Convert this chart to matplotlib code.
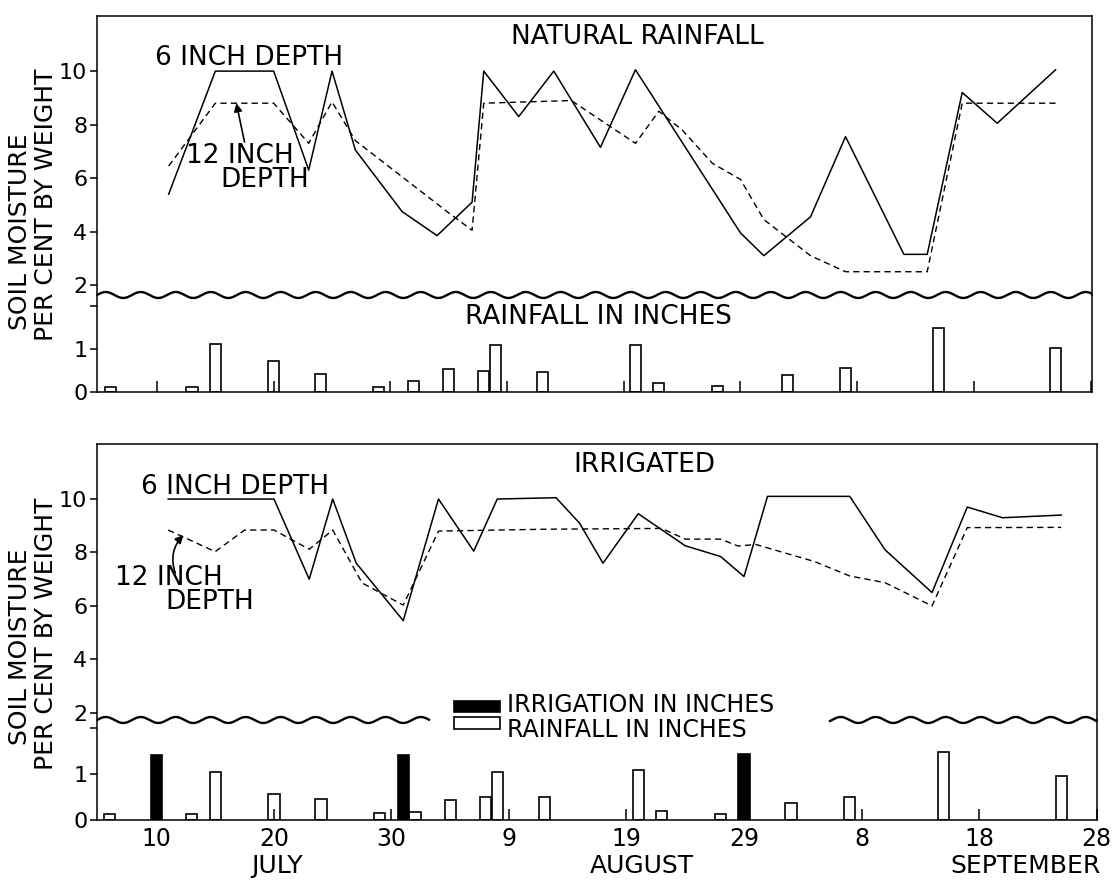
import numpy as np
import matplotlib
matplotlib.use("Agg")
import matplotlib.pyplot as plt
from matplotlib.patches import Rectangle

plt.rcParams['font.family'] = ['DejaVu Sans']

# Day index: 1 = July 1, 32 = Aug 1, 63 = Sep 1
tick_days = [10, 20, 30, 40, 50, 60, 70, 80, 90]
tick_labels = ['10', '20', '30', '9', '19', '29', '8', '18', '28']
months = ['JULY', 'AUGUST', 'SEPTEMBER']

# ---- Natural rainfall panel ----
nat_days_6 = [11, 15, 20, 23, 25, 27, 31, 34, 37, 38, 41, 44, 48, 51, 60, 62, 66, 69, 74, 76, 79, 82, 87]
nat_moist_6 = [5.4, 10.0, 10.0, 6.3, 10.0, 7.05, 4.75, 3.85, 5.1, 10.0, 8.3, 10.0, 7.15, 10.05,
               3.95, 3.1, 4.55, 7.55, 3.15, 3.15, 9.2, 8.05, 10.05]
nat_days_12 = [11, 15, 20, 23, 25, 27, 35, 37, 38, 45.5, 51, 53, 55, 57.6, 60, 62, 66, 69, 76, 79, 87]
nat_moist_12 = [6.45, 8.8, 8.8, 7.3, 8.85, 7.4, 4.7, 4.05, 8.8, 8.9, 7.3, 8.5, 7.8, 6.55,
                5.95, 4.45, 3.1, 2.5, 2.5, 8.8, 8.8]

rain_days = [6, 13, 15, 20, 24, 29, 32, 35, 38, 39, 43, 51, 53, 58, 64, 69, 77, 87]
nat_rain = [0.12, 0.12, 1.11, 0.73, 0.43, 0.12, 0.25, 0.53, 0.5, 1.1, 0.47, 1.1, 0.21, 0.15,
            0.4, 0.56, 1.5, 1.02]

# ---- Irrigated panel ----
irr_days_6 = [11, 20, 23, 25, 27, 31, 34, 37, 39, 44, 46, 48, 51, 55, 58, 60, 62, 69, 72, 76, 79, 82, 87]
irr_moist_6 = [10.0, 10.0, 7.0, 10.0, 7.6, 5.45, 10.0, 8.05, 10.0, 10.05, 9.1, 7.6, 9.45, 8.25,
               7.85, 7.1, 10.1, 10.1, 8.1, 6.5, 9.7, 9.3, 9.4]
irr_days_12 = [11, 15, 17.5, 20, 23, 25, 27.5, 31, 34, 43, 53, 55, 58, 59.5, 61, 66, 69, 72, 76, 79, 87]
irr_moist_12 = [8.84, 8.03, 8.84, 8.84, 8.12, 8.84, 6.86, 6.03, 8.8, 8.87, 8.9, 8.5, 8.5, 8.24,
                8.3, 7.66, 7.12, 6.87, 6.0, 8.93, 8.94]

irr_rain = [0.13, 0.12, 1.04, 0.57, 0.46, 0.15, 0.18, 0.43, 0.49, 1.04, 0.49, 1.08, 0.2, 0.13,
            0.37, 0.49, 1.47, 0.95]
irrig_days = [10, 31, 60]
irrig_amt = [1.4, 1.4, 1.43]

W, H = 1116, 880
fig = plt.figure(figsize=(W / 100, H / 100), dpi=100)
fig.patch.set_facecolor('white')


def ax_px(l, t, r, b):
    return fig.add_axes([l / W, 1 - b / H, (r - l) / W, (b - t) / H])


FS = 19
LW = 1.1


def style_pair(axm, axr, xlim, mlim, rlim, show_xlabels):
    for a in (axm, axr):
        a.set_xlim(*xlim)
        a.set_facecolor('none')
        for s in a.spines.values():
            s.set_linewidth(LW)
    axm.set_ylim(*mlim)
    axr.set_ylim(*rlim)
    axm.spines['bottom'].set_visible(False)
    axr.spines['top'].set_visible(False)
    axm.set_xticks([])
    axm.set_yticks([2, 4, 6, 8, 10])
    axm.set_yticklabels(['2', '4', '6', '8', '10'])
    axr.set_yticks([0, 1, 2])
    axr.set_yticklabels(['0', '1', ''])
    for a in (axm, axr):
        a.tick_params(axis='y', direction='out', length=5, width=LW, labelsize=16, pad=2)
    axr.set_xticks(tick_days)
    axr.tick_params(axis='x', direction='in', length=8, width=LW, labelsize=17, pad=5)
    if show_xlabels:
        axr.set_xticklabels(tick_labels)
    else:
        axr.set_xticklabels([])


def wave(ax, x0, x1, amp_px=3.0, period_px=35.0, phase=0.0):
    bb = ax.get_position()
    wpx, hpx = bb.width * W, bb.height * H
    xs = np.linspace(x0, x1, 600)
    ys = (amp_px / hpx) * np.sin(2 * np.pi * (xs * wpx) / period_px + phase)
    ax.plot(xs, ys, transform=ax.transAxes, color='k', lw=1.7, clip_on=False,
            solid_capstyle='butt')


dash = (0, (4.5, 3))

# ================= TOP PANEL =================
axm1 = ax_px(97, 16, 1092, 295)
axr1 = ax_px(97, 295, 1092, 392)
style_pair(axm1, axr1, (4.86, 90.12), (1.63, 12.06), (0, 2.256), False)

axm1.plot(nat_days_6, nat_moist_6, color='k', lw=1.1)
axm1.plot(nat_days_12, nat_moist_12, color='k', lw=1.0, linestyle=dash)
axr1.bar(rain_days, nat_rain, width=0.95, facecolor='white', edgecolor='k', linewidth=1.2)
wave(axm1, 0, 1)

axm1.text(51.2, 11.27, 'NATURAL RAINFALL', ha='center', va='center', fontsize=FS)
axm1.text(17.9, 10.49, '6 INCH DEPTH', ha='center', va='center', fontsize=FS)
axm1.text(17.1, 6.82, '12 INCH', ha='center', va='center', fontsize=FS)
axm1.text(19.2, 5.93, 'DEPTH', ha='center', va='center', fontsize=FS)
axm1.annotate('', xy=(16.8, 8.8), xytext=(17.5, 7.35),
              arrowprops=dict(arrowstyle='-|>', color='k', lw=1.2, mutation_scale=12,
                              shrinkA=0, shrinkB=0))
axr1.text(47.8, 1.74, 'RAINFALL IN INCHES', ha='center', va='center', fontsize=FS)

# ================= BOTTOM PANEL =================
axm2 = ax_px(97, 444, 1097, 720)
axr2 = ax_px(97, 720, 1097, 820)
style_pair(axm2, axr2, (4.94, 90.04), (1.73, 12.06), (0, 2.17), True)

axm2.plot(irr_days_6, irr_moist_6, color='k', lw=1.1)
axm2.plot(irr_days_12, irr_moist_12, color='k', lw=1.0, linestyle=dash)
axr2.bar(rain_days, irr_rain, width=0.95, facecolor='white', edgecolor='k', linewidth=1.2)
axr2.bar(irrig_days, irrig_amt, width=0.95, facecolor='k', edgecolor='k', linewidth=1.2)
wave(axm2, 0, (430 - 97) / 1000)
wave(axm2, (829 - 97) / 1000, 1)

axm2.text(51.5, 11.28, 'IRRIGATED', ha='center', va='center', fontsize=FS)
axm2.text(16.7, 10.45, '6 INCH DEPTH', ha='center', va='center', fontsize=FS)
axm2.text(11.06, 7.06, '12 INCH', ha='center', va='center', fontsize=FS)
axm2.text(14.5, 6.15, 'DEPTH', ha='center', va='center', fontsize=FS)
axm2.annotate('', xy=(12.3, 8.65), xytext=(11.6, 7.23),
              arrowprops=dict(arrowstyle='-|>', color='k', lw=1.2, mutation_scale=12,
                              shrinkA=0, shrinkB=0, connectionstyle='arc3,rad=-0.3'))

# legend (bottom panel)
fig.patches.append(Rectangle((454 / W, 1 - 712 / H), 46 / W, 11 / H, transform=fig.transFigure,
                             facecolor='k', edgecolor='k', lw=1.2))
fig.patches.append(Rectangle((454 / W, 1 - 729 / H), 46 / W, 12 / H, transform=fig.transFigure,
                             facecolor='white', edgecolor='k', lw=1.2))
fig.text(507 / W, 1 - 705 / H, 'IRRIGATION IN INCHES', ha='left', va='center', fontsize=17)
fig.text(507 / W, 1 - 730 / H, 'RAINFALL IN INCHES', ha='left', va='center', fontsize=17)

# y labels
for (x, y, s) in [(20, 232, 'SOIL MOISTURE'), (46, 205, 'PER CENT BY WEIGHT'),
                  (20, 647, 'SOIL MOISTURE'), (46, 634, 'PER CENT BY WEIGHT')]:
    fig.text(x / W, 1 - y / H, s, rotation=90, ha='center', va='center', fontsize=18)

# month labels
for m, xpx in zip(months, [277, 642, 1025]):
    fig.text(xpx / W, 1 - 866 / H, m, ha='center', va='center', fontsize=18)

fig.savefig('out.png', dpi=100, facecolor='white')
